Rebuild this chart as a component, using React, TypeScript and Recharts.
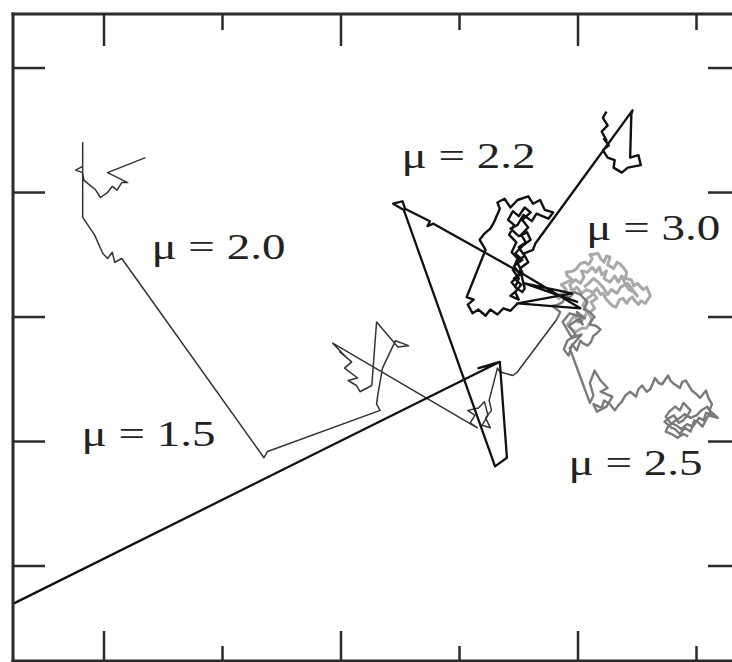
import { LineChart, Line, XAxis, YAxis, ReferenceDot } from 'recharts';

// frame: tick positions in data units (no labels on the original)
const xTicks = [0, 1, 2, 3, 4, 5];
const xMajor = [0, 2, 4];
const yTicks = [0, 1, 2, 3, 4];
const xDomain: [number, number] = [-0.768, 5.367];
const yDomain: [number, number] = [-0.763, 4.434];

// trajectories, [x, y]
const mu15: [number, number][] = [
  [-0.76, -0.3], [3.32, 1.63], [3.16, 1.59], [3.34, 1.64], [3.4, 0.87], [3.3, 0.8],
  [2.53, 2.86], [2.44, 2.91], [2.52, 2.93], [2.54, 2.87], [2.75, 2.77], [2.73, 2.73],
  [2.78, 2.75], [3.51, 2.36], [4.02, 2.07], [3.49, 2.11], [3.95, 2.19], [3.55, 2.27], [4.0, 2.12],
];

const mu20: [number, number][] = [
  [0.35, 3.28], [0.03, 3.16], [0.2, 3.08], [0.15, 3.08], [0.11, 3.02], [0.07, 3.05],
  [0.03, 3.0], [-0.03, 2.96], [-0.07, 3.02], [-0.12, 3.06], [-0.17, 3.1], [-0.18, 3.16],
  [-0.24, 3.18], [-0.18, 3.21], [-0.18, 3.4], [-0.18, 2.8], [-0.08, 2.66], [-0.01, 2.51],
  [0.03, 2.47], [0.07, 2.52], [0.09, 2.44], [0.15, 2.47], [1.35, 0.87], [1.38, 0.92],
  [2.33, 1.25], [2.3, 1.3], [2.31, 1.37], [2.35, 1.59], [2.46, 1.81], [2.57, 1.77],
  [2.48, 1.76], [2.3, 1.96], [2.26, 1.45], [2.16, 1.4], [2.13, 1.45], [2.06, 1.49],
  [2.14, 1.51], [2.03, 1.59], [2.09, 1.64], [1.99, 1.72], [2.04, 1.68], [1.93, 1.79],
  [3.15, 1.11], [3.09, 1.15], [3.13, 1.21], [3.07, 1.25], [3.16, 1.27], [3.21, 1.32],
  [3.24, 1.21], [3.19, 1.13], [3.26, 1.11], [3.22, 1.19], [3.27, 1.25], [3.25, 1.33],
  [3.32, 1.59], [3.34, 1.56], [3.45, 1.53], [3.49, 1.56], [3.82, 1.98],
];

const mu22: [number, number][] = [
  [3.49, 2.11], [3.43, 2.05], [3.37, 2.07], [3.32, 2.02], [3.26, 2.06], [3.22, 2.01],
  [3.16, 2.06], [3.11, 2.03], [3.07, 2.1], [3.12, 2.14], [3.06, 2.16], [3.22, 2.54],
  [3.17, 2.62], [3.21, 2.67], [3.26, 2.71], [3.29, 2.76], [3.34, 2.87], [3.32, 2.92],
  [3.38, 2.95], [3.43, 2.88], [3.49, 2.94], [3.58, 2.97], [3.62, 2.91], [3.68, 2.94],
  [3.72, 2.86], [3.79, 2.84], [3.75, 2.79], [3.65, 2.83], [3.61, 2.77], [3.54, 2.82],
  [3.49, 2.74], [3.43, 2.71], [3.5, 2.65], [3.57, 2.68], [3.6, 2.62], [3.53, 2.57],
  [3.47, 2.51], [3.53, 2.46], [3.46, 2.41], [3.51, 2.34], [3.44, 2.28], [3.49, 2.22],
  [3.43, 2.17], [3.5, 2.14], [3.47, 2.2], [3.52, 2.26], [3.46, 2.31], [3.53, 2.36],
  [3.48, 2.45], [3.55, 2.49], [3.5, 2.56], [3.56, 2.6], [3.52, 2.66], [3.58, 2.72],
  [3.53, 2.78], [3.6, 2.84], [3.55, 2.88], [3.5, 2.81], [3.45, 2.85], [3.41, 2.78],
  [3.46, 2.74], [3.42, 2.66], [3.48, 2.6], [3.44, 2.52], [3.49, 2.47], [3.45, 2.38],
  [3.5, 2.31], [3.47, 2.24], [3.53, 2.2], [3.55, 2.23], [3.51, 2.39], [3.58, 2.44],
  [3.54, 2.51], [3.62, 2.54], [3.64, 2.59], [4.46, 3.66], [4.45, 3.63], [4.44, 3.28],
  [4.51, 3.3], [4.53, 3.22], [4.42, 3.2], [4.37, 3.16], [4.3, 3.2], [4.31, 3.26],
  [4.25, 3.28], [4.21, 3.34], [4.26, 3.38], [4.22, 3.43], [4.24, 3.42], [4.2, 3.49],
  [4.25, 3.54], [4.21, 3.6], [4.24, 3.65],
];

const mu25: [number, number][] = [
  [3.82, 1.98], [3.85, 2.04], [3.78, 2.09], [3.83, 2.1], [3.87, 2.12], [3.9, 2.17],
  [3.93, 2.16], [3.97, 2.2], [4.02, 2.18], [4.05, 2.15], [4.08, 2.12], [4.05, 2.06],
  [4.1, 2.04], [4.14, 2.0], [4.11, 1.97], [4.1, 1.94], [4.15, 1.93], [4.19, 1.9],
  [4.16, 1.87], [4.13, 1.85], [4.11, 1.8], [4.08, 1.77], [4.04, 1.79], [4.02, 1.81],
  [3.99, 1.73], [3.95, 1.78], [3.92, 1.69], [3.88, 1.74], [3.91, 1.81], [3.98, 1.86],
  [3.92, 1.93], [4.0, 1.98], [4.04, 1.94], [3.99, 2.04], [4.06, 1.99], [3.93, 2.03],
  [3.87, 1.96], [3.95, 1.83], [4.03, 1.86], [3.93, 1.75],
  [4.1, 1.31], [4.13, 1.37], [4.1, 1.47], [4.14, 1.57], [4.19, 1.49], [4.25, 1.43],
  [4.19, 1.4], [4.29, 1.36], [4.24, 1.28], [4.16, 1.24], [4.13, 1.3], [4.2, 1.27],
  [4.22, 1.33], [4.27, 1.3], [4.31, 1.25], [4.34, 1.29], [4.37, 1.32], [4.4, 1.37],
  [4.44, 1.4], [4.49, 1.36], [4.51, 1.42], [4.54, 1.45], [4.58, 1.4], [4.61, 1.42],
  [4.65, 1.51], [4.68, 1.47], [4.71, 1.46], [4.76, 1.53], [4.78, 1.49], [4.8, 1.47],
  [4.86, 1.43], [4.88, 1.48], [4.91, 1.49], [4.96, 1.41], [5.0, 1.38], [5.03, 1.35],
  [5.08, 1.41], [5.1, 1.35], [5.13, 1.3], [5.11, 1.25], [5.18, 1.19], [5.1, 1.21],
  [5.05, 1.12], [5.01, 1.16], [4.98, 1.17], [4.95, 1.08], [4.9, 1.11], [4.86, 1.06],
  [4.82, 1.1], [4.79, 1.11], [4.73, 1.16], [4.77, 1.19], [4.81, 1.21], [4.85, 1.15],
  [4.89, 1.17], [4.93, 1.22], [4.95, 1.25], [4.89, 1.31], [4.86, 1.25], [4.82, 1.28],
  [4.77, 1.24], [4.74, 1.2], [4.78, 1.15], [4.83, 1.13], [4.87, 1.1], [4.92, 1.14],
  [4.97, 1.12], [5.02, 1.19], [5.06, 1.17], [5.08, 1.23], [5.13, 1.22], [5.09, 1.28],
  [5.04, 1.25], [5.0, 1.21], [4.95, 1.19], [4.9, 1.22], [4.86, 1.19], [4.81, 1.16],
  [4.76, 1.12], [4.74, 1.08], [4.79, 1.06], [4.84, 1.03], [4.89, 1.06], [4.93, 1.04],
];

const mu30: [number, number][] = [
  [3.85, 2.14], [3.81, 2.17], [3.87, 2.19], [3.9, 2.22], [3.86, 2.26], [3.95, 2.3],
  [3.91, 2.33], [3.9, 2.36], [3.96, 2.37], [3.99, 2.39], [4.02, 2.43], [4.06, 2.44],
  [4.09, 2.42], [4.12, 2.47], [4.1, 2.5], [4.17, 2.51], [4.19, 2.47], [4.22, 2.44],
  [4.24, 2.49], [4.27, 2.48], [4.25, 2.42], [4.3, 2.39], [4.33, 2.44], [4.35, 2.43],
  [4.38, 2.4], [4.41, 2.36], [4.4, 2.31], [4.45, 2.3], [4.47, 2.25], [4.5, 2.27],
  [4.53, 2.24], [4.55, 2.22], [4.58, 2.24], [4.61, 2.17], [4.58, 2.13], [4.57, 2.11],
  [4.53, 2.13], [4.51, 2.1], [4.48, 2.13], [4.46, 2.16], [4.43, 2.14], [4.41, 2.11],
  [4.38, 2.15], [4.35, 2.14], [4.32, 2.08], [4.29, 2.09], [4.26, 2.12], [4.24, 2.14],
  [4.21, 2.19], [4.19, 2.18], [4.16, 2.23], [4.14, 2.21], [4.11, 2.17], [4.08, 2.15],
  [4.05, 2.11], [4.04, 2.09], [4.08, 2.05], [4.06, 2.01], [4.03, 1.97], [4.0, 1.96],
  [3.97, 2.02], [3.96, 2.0], [3.93, 1.96], [3.91, 1.94], [3.95, 1.9], [3.98, 1.88],
  [4.03, 1.91], [4.07, 1.91], [4.12, 1.98], [4.09, 2.03], [4.14, 2.07], [4.11, 2.12],
  [4.16, 2.15], [4.12, 2.2], [4.07, 2.22], [4.03, 2.19], [3.99, 2.24], [3.95, 2.21],
  [3.93, 2.26], [3.98, 2.3], [4.02, 2.27], [4.05, 2.32], [4.03, 2.37], [4.08, 2.36],
  [4.12, 2.4], [4.15, 2.36], [4.18, 2.4], [4.2, 2.34], [4.24, 2.37], [4.22, 2.31],
  [4.27, 2.28], [4.31, 2.33], [4.34, 2.28], [4.37, 2.33], [4.4, 2.26], [4.43, 2.22],
  [4.47, 2.2], [4.5, 2.17], [4.46, 2.22], [4.42, 2.27], [4.36, 2.24], [4.33, 2.19],
  [4.28, 2.22], [4.25, 2.18], [4.21, 2.24], [4.17, 2.28], [4.13, 2.31], [4.09, 2.27],
  [4.05, 2.24],
];

const labels = [
  { text: 'μ = 2.0', x: 0.4, y: 2.47 },
  { text: 'μ = 1.5', x: -0.19, y: 0.96 },
  { text: 'μ = 2.2', x: 2.51, y: 3.2 },
  { text: 'μ = 3.0', x: 4.07, y: 2.62 },
  { text: 'μ = 2.5', x: 3.92, y: 0.73 },
];

const rows = (pts: [number, number][]) => pts.map(([x, y]) => ({ x, y }));

const frame = { stroke: '#2b2b2b', strokeWidth: 3, strokeLinecap: 'square' as const };
const tickStroke = '#2b2b2b';

const BottomTick = ({ x, y, payload }: any) => {
  const len = xMajor.includes(payload.value) ? 30 : 15;
  return <line x1={x} x2={x} y1={y} y2={y - len} stroke={tickStroke} strokeWidth={2.5} />;
};
const TopTick = ({ x, y, payload }: any) => {
  const len = xMajor.includes(payload.value) ? 32 : 16;
  return <line x1={x} x2={x} y1={y} y2={y + len} stroke={tickStroke} strokeWidth={2.5} />;
};
const LeftTick = ({ x, y }: any) => (
  <line x1={x} x2={x + 32} y1={y} y2={y} stroke={tickStroke} strokeWidth={2.5} />
);
const RightTick = ({ x, y }: any) => (
  <line x1={x} x2={x - 32} y1={y} y2={y} stroke={tickStroke} strokeWidth={2.5} />
);

const series = [
  { key: 'mu30', pts: mu30, color: '#a9a9a9', width: 3 },
  { key: 'mu25', pts: mu25, color: '#7a7a7a', width: 2.4 },
  { key: 'mu20', pts: mu20, color: '#333333', width: 1.5 },
  { key: 'mu22', pts: mu22, color: '#111111', width: 2.4 },
  { key: 'mu15', pts: mu15, color: '#111111', width: 2.3 },
];

export default function App() {
  return (
    <div style={{ position: 'absolute', left: 0, top: 0, width: 732, height: 662, overflow: 'hidden', background: '#fff' }}>
      <LineChart width={760} height={680} margin={{ top: 13, left: 12, right: 19, bottom: 18 }}>
        <XAxis xAxisId="b" orientation="bottom" type="number" dataKey="x" domain={xDomain} ticks={xTicks}
          allowDataOverflow height={1} tickSize={0} tickMargin={0} tickLine={false} interval={0}
          axisLine={frame} tick={<BottomTick />} />
        <XAxis xAxisId="t" orientation="top" type="number" dataKey="x" domain={xDomain} ticks={xTicks}
          allowDataOverflow height={1} tickSize={0} tickMargin={0} tickLine={false} interval={0}
          axisLine={frame} tick={<TopTick />} />
        <YAxis yAxisId="l" orientation="left" type="number" dataKey="y" domain={yDomain} ticks={yTicks}
          allowDataOverflow width={1} tickSize={0} tickMargin={0} tickLine={false} interval={0}
          axisLine={frame} tick={<LeftTick />} />
        <YAxis yAxisId="r" orientation="right" type="number" dataKey="y" domain={yDomain} ticks={yTicks}
          allowDataOverflow width={1} tickSize={0} tickMargin={0} tickLine={false} interval={0}
          axisLine={frame} tick={<RightTick />} />
        {series.map((s) => (
          <Line key={s.key} xAxisId="b" yAxisId="l" data={rows(s.pts)} dataKey="y" type="linear"
            stroke={s.color} strokeWidth={s.width} strokeLinejoin="round" dot={false}
            activeDot={false} isAnimationActive={false} />
        ))}
        {labels.map((l) => (
          <ReferenceDot key={l.text} xAxisId="b" yAxisId="l" x={l.x} y={l.y} r={0}
            shape={(p: any) => (
              <text x={p.cx} y={p.cy} fontFamily="'Liberation Serif', 'DejaVu Serif', serif" fontSize={35}
                fill="#222" textLength={134} lengthAdjust="spacingAndGlyphs">{l.text}</text>
            )} />
        ))}
      </LineChart>
    </div>
  );
}
